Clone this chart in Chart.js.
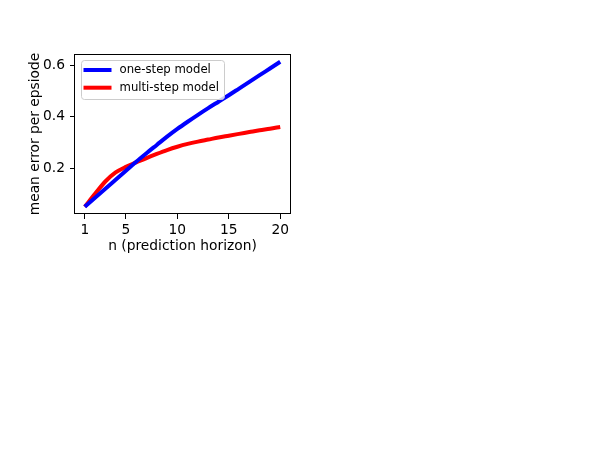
<!DOCTYPE html>
<html>
<head>
<meta charset="utf-8">
<script src="https://cdn.jsdelivr.net/npm/chart.js@4/dist/chart.umd.min.js"></script>
<style>
  body { margin: 0; background: #fff; }
</style>
</head>
<body>
<canvas id="chart" width="607" height="456"></canvas>
<script>
// data
var horizon = [1, 2, 3, 4, 5, 6, 7, 8, 9, 10, 11, 12, 13, 14, 15, 16, 17, 18, 19, 20];
var oneStep = [0.05, 0.085, 0.12, 0.155, 0.19, 0.225, 0.258, 0.29, 0.322, 0.352,
               0.38, 0.407, 0.433, 0.458, 0.483, 0.509, 0.535, 0.561, 0.587, 0.613];
var multiStep = [0.05, 0.10, 0.148, 0.183, 0.205, 0.222, 0.239, 0.255, 0.27, 0.283,
                 0.294, 0.303, 0.311, 0.319, 0.326, 0.333, 0.34, 0.347, 0.353, 0.36];
var xTicks = [1, 5, 10, 15, 20];
var yTicks = [0.2, 0.4, 0.6];

function points(ys) {
    return horizon.map(function (v, i) { return { x: v, y: ys[i] }; });
}

Chart.defaults.font.family = "'DejaVu Sans', sans-serif";
Chart.defaults.font.size = 13.8;
Chart.defaults.color = '#000';

// box around the plot area + legend drawn inside it (matplotlib style)
var framePlugin = {
    id: 'frame',
    afterDatasetsDraw: function (chart) {
        var c = chart.ctx, a = chart.chartArea;
        c.save();
        c.strokeStyle = '#000';
        c.lineWidth = 1;
        c.strokeRect(Math.round(a.left) - 0.5, Math.round(a.top) + 0.5,
                     Math.round(a.right - a.left) + 1, Math.round(a.bottom - a.top) - 1);

        // legend
        var lx = a.left + 6.5, ly = a.top + 6.5, lw = 143, lh = 39;
        c.fillStyle = 'rgba(255,255,255,0.8)';
        c.strokeStyle = '#cccccc';
        c.beginPath();
        c.roundRect(lx, ly, lw, lh, 3);
        c.fill();
        c.stroke();
        c.font = "11.7px 'DejaVu Sans'";
        c.textBaseline = 'middle';
        chart.data.datasets.forEach(function (ds, i) {
            var y = ly + 9.5 + i * 17.7;
            c.strokeStyle = ds.borderColor;
            c.lineWidth = 4;
            c.beginPath();
            c.moveTo(lx + 2, y);
            c.lineTo(lx + 30, y);
            c.stroke();
            c.fillStyle = '#000';
            c.fillText(ds.label, lx + 38, y);
        });
        c.restore();
    }
};

var ctx = document.getElementById('chart');

var chart = new Chart(ctx, {
    type: 'line',
    data: {
        datasets: [{
            label: 'one-step model',
            data: points(oneStep),
            borderColor: '#0000ff',
            borderWidth: 4,
            pointRadius: 0,
            cubicInterpolationMode: 'monotone',
            fill: false
        },
        {
            label: 'multi-step model',
            data: points(multiStep),
            borderColor: '#ff0000',
            borderWidth: 4,
            pointRadius: 0,
            cubicInterpolationMode: 'monotone',
            fill: false
        }]
    },
    options: {
        responsive: false,
        animation: false,
        layout: {
            padding: { left: 27, top: 54, right: 317, bottom: 201 }
        },
        plugins: {
            legend: { display: false },
            tooltip: { enabled: false }
        },
        scales: {
            x: {
                type: 'linear',
                min: 0.05,
                max: 20.95,
                afterBuildTicks: function (scale) {
                    scale.ticks = xTicks.map(function (v) { return { value: v }; });
                },
                afterFit: function (scale) { scale.height = 41; },
                ticks: { padding: 3, maxRotation: 0 },
                grid: { drawOnChartArea: false, tickLength: 5, tickColor: '#000' },
                border: { display: false },
                title: {
                    display: true,
                    text: 'n (prediction horizon)',
                    padding: 0
                }
            },
            y: {
                min: 0.0218,
                max: 0.6432,
                afterBuildTicks: function (scale) {
                    scale.ticks = yTicks.map(function (v) { return { value: v }; });
                },
                afterFit: function (scale) { scale.width = 48; },
                ticks: {
                    padding: 5,
                    callback: function (value) { return value.toFixed(1); }
                },
                grid: { drawOnChartArea: false, tickLength: 5, tickColor: '#000' },
                border: { display: false },
                title: {
                    display: true,
                    text: 'mean error per epsiode',
                    padding: 0
                }
            }
        }
    },
    plugins: [framePlugin]
});
</script>
</body>
</html>
